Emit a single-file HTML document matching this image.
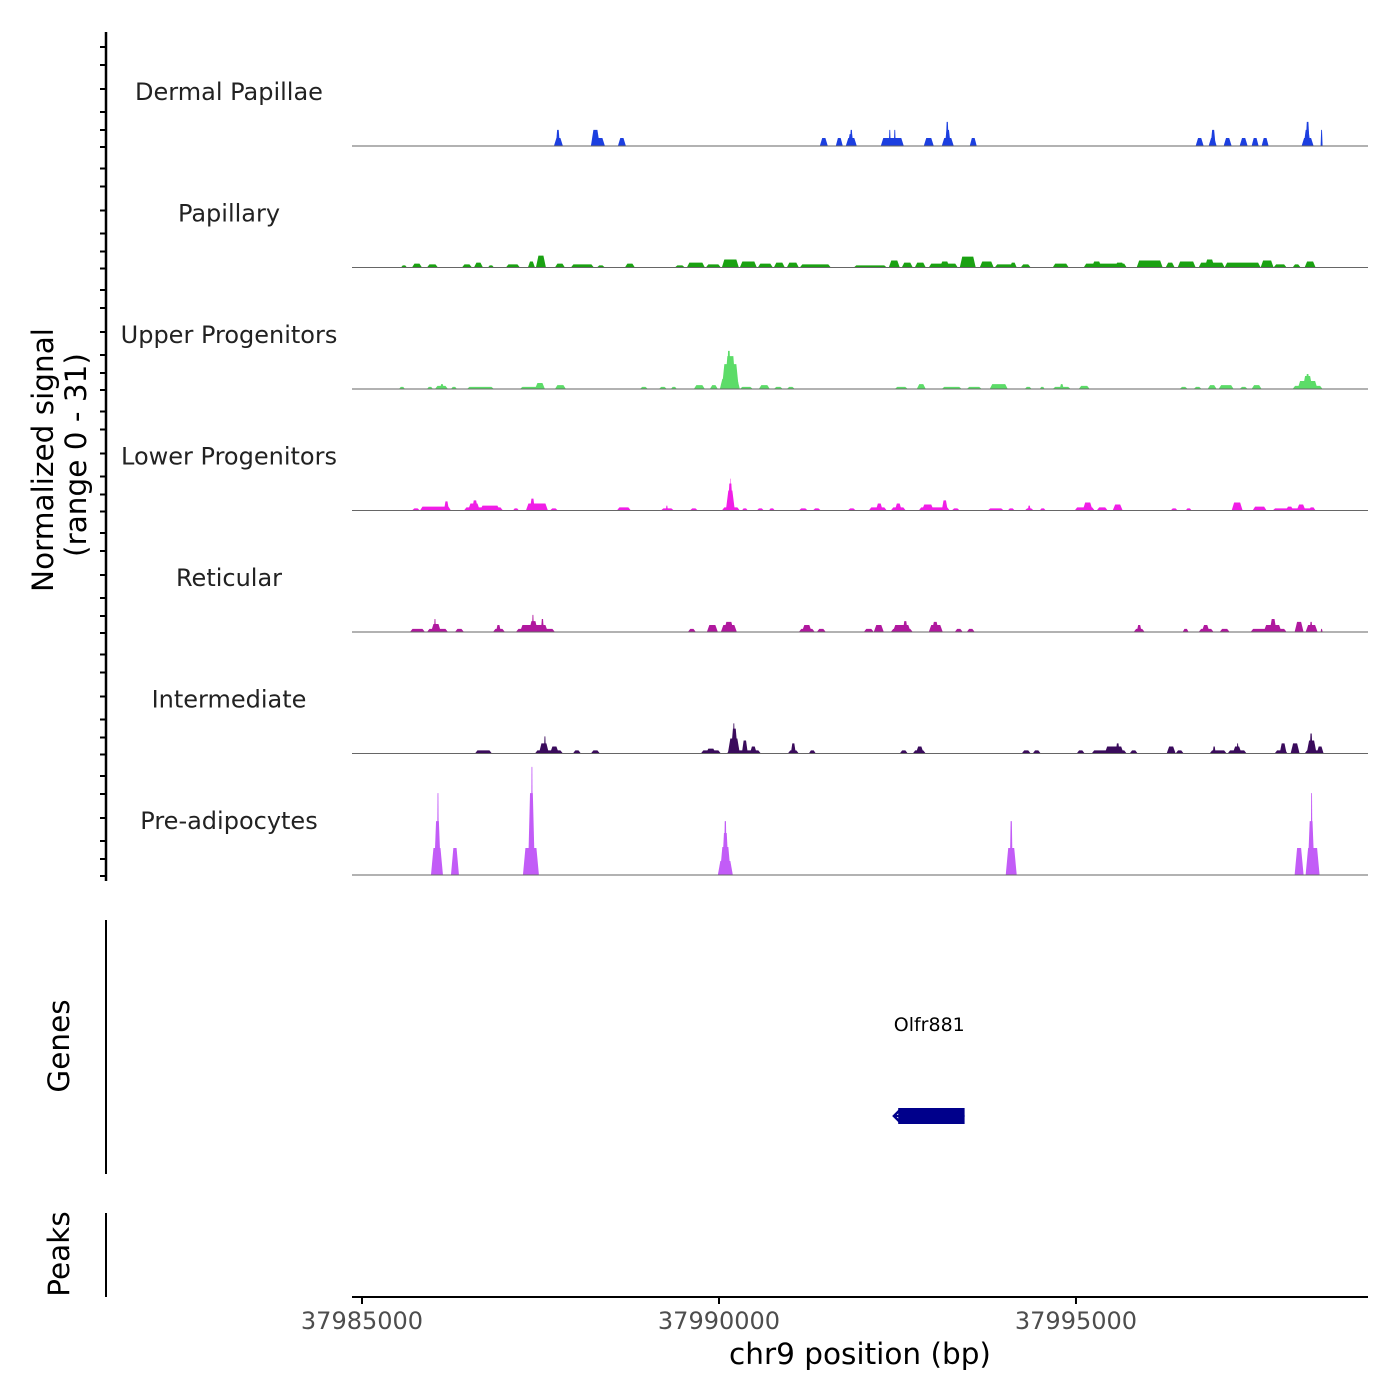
<!DOCTYPE html>
<html><head><meta charset="utf-8"><style>
html,body{margin:0;padding:0;background:#fff;}
svg{display:block;font-family:"DejaVu Sans","Liberation Sans",sans-serif;}
</style></head><body>
<svg id="chart" width="1400" height="1400" viewBox="0 0 1400 1400" xmlns="http://www.w3.org/2000/svg">
<rect width="1400" height="1400" fill="#fff"/>
<g id="tracks"></g>
<g id="yaxis"></g>
<text transform="translate(53,460) rotate(-90)" text-anchor="middle" font-size="29.5" fill="#000">Normalized signal</text>
<text transform="translate(86,455) rotate(-90)" text-anchor="middle" font-size="29.5" fill="#000">(range 0 - 31)</text>
<line x1="106" y1="920" x2="106" y2="1174" stroke="#000" stroke-width="2"/>
<text transform="translate(69,1046) rotate(-90)" text-anchor="middle" font-size="29.5" fill="#000">Genes</text>
<line x1="106" y1="1213" x2="106" y2="1297" stroke="#000" stroke-width="2"/>
<text transform="translate(69,1254) rotate(-90)" text-anchor="middle" font-size="29.5" fill="#000">Peaks</text>
<g id="genes"></g>
<g id="xaxis"></g>
<text x="860" y="1364" text-anchor="middle" font-size="29.5" fill="#000">chr9 position (bp)</text>
</svg>
<script>
// positions are bp offsets from regionStart; values in normalized signal (0-31)
const regionStart = 37985000;
const trackNames = ["Dermal Papillae","Papillary","Upper Progenitors","Lower Progenitors","Reticular","Intermediate","Pre-adipocytes"];
const trackColors = ["#1c3fe0","#1aa112","#5cdc68","#f01ee6","#b0189e","#3a0b5c","#c25cf7"];
const xTicks = [37985000, 37990000, 37995000];
const dermalPapillae = [[2688,2814,2.3],[2716,2772,4.6],[3206,3402,2.3],[3206,3332,4.6],[3584,3696,2.3],[6412,6524,2.3],[6636,6734,2.3],[6776,6930,2.3],[6804,6888,3.4],[6832,6874,4.6],[7266,7588,2.3],[7378,7406,4.6],[7448,7476,4.6],[7868,8008,2.3],[8120,8288,2.3],[8162,8246,4.6],[8176,8218,6.9],[8512,8610,2.3],[11676,11788,2.3],[11858,11970,2.3],[11886,11956,4.6],[12068,12180,2.3],[12292,12404,2.3],[12460,12558,2.3],[12600,12698,2.3],[13160,13328,2.3],[13188,13286,4.6],[13216,13272,6.9],[13426,13454,4.6]];
const papillary = [[546,630,0.6],[700,840,1.1],[910,1064,0.9],[1400,1540,0.9],[1568,1694,1.4],[1764,1848,0.6],[2016,2212,0.9],[2324,2422,1.7],[2436,2576,3.4],[2702,2842,1.1],[2926,3248,0.9],[3290,3402,0.6],[3682,3822,1.1],[4382,4522,0.6],[4550,4802,1.4],[4816,5026,0.9],[5040,5278,2.3],[5292,5530,1.7],[5544,5754,1.1],[5768,5922,1.4],[5950,6118,1.4],[6132,6566,0.9],[6888,7350,0.6],[7378,7532,2.0],[7560,7714,1.4],[7742,7896,1.4],[7938,8344,1.1],[8092,8232,1.7],[8372,8596,3.1],[8652,8848,1.7],[8862,9170,0.9],[9072,9170,1.4],[9226,9366,0.9],[9674,9898,1.1],[10108,10710,1.1],[10220,10360,1.7],[10542,10682,1.4],[10850,11214,2.0],[11256,11382,1.4],[11424,11676,1.7],[11718,12082,1.4],[11802,11942,2.3],[12082,12586,1.4],[12586,12768,2.0],[12768,12950,0.9],[13034,13146,0.9],[13202,13356,1.7]];
const upperProgenitors = [[518,602,0.6],[910,994,0.6],[1022,1204,0.9],[1092,1148,1.4],[1246,1330,0.6],[1470,1848,0.6],[2212,2478,0.6],[2422,2562,1.7],[2702,2856,1.1],[3892,4004,0.6],[4158,4270,0.6],[4326,4410,0.6],[4648,4802,1.1],[4872,4984,1.1],[5012,5292,2.9],[5040,5278,7.1],[5082,5236,9.4],[5110,5166,10.9],[5292,5474,0.6],[5558,5712,1.1],[5768,5894,0.6],[5950,6062,0.6],[7462,7644,0.6],[7770,7896,1.4],[8120,8400,0.6],[8470,8680,0.6],[8792,9044,1.4],[9282,9380,0.6],[9492,9562,0.6],[9674,9926,0.6],[9772,9828,1.4],[10038,10192,0.9],[11452,11564,0.6],[11648,11760,0.6],[11844,11970,1.1],[11998,12208,1.1],[12292,12404,0.6],[12460,12600,1.1],[13034,13454,0.9],[13104,13384,2.3],[13174,13314,3.7],[13216,13272,4.3]];
const lowerProgenitors = [[700,812,0.6],[812,1246,1.1],[1148,1218,2.6],[1428,1974,0.9],[1484,1652,2.0],[1540,1624,2.9],[1652,1932,1.4],[2114,2198,0.6],[2296,2604,2.0],[2352,2422,3.4],[2632,2744,0.6],[3570,3766,0.9],[4186,4368,0.6],[4256,4284,1.4],[4592,4704,0.6],[5040,5292,0.9],[5096,5222,5.7],[5124,5194,7.7],[5152,5166,9.1],[5320,5404,0.6],[5530,5628,0.6],[5698,5782,0.6],[6118,6244,0.6],[6314,6426,0.6],[6804,6916,0.6],[7098,7350,0.9],[7196,7294,2.0],[7406,7616,0.9],[7462,7560,2.0],[7798,8232,0.9],[7840,8008,1.7],[8120,8204,2.9],[8260,8372,0.6],[8764,8988,0.6],[9044,9142,0.6],[9282,9408,0.6],[9324,9366,1.4],[9492,9576,0.6],[9982,10262,0.9],[10094,10234,2.3],[10290,10444,0.9],[10514,10654,1.7],[11326,11424,0.6],[11536,11620,0.6],[12180,12334,2.3],[12474,12670,1.1],[12754,13356,0.6],[12936,13048,1.1],[13090,13216,1.7],[13258,13356,0.9]];
const reticular = [[672,882,0.9],[910,1204,0.9],[966,1106,2.3],[1008,1036,3.7],[1302,1428,0.9],[1834,2002,0.9],[1876,1946,2.0],[2156,2702,0.9],[2212,2604,2.0],[2338,2464,3.1],[2380,2408,4.9],[2506,2548,3.7],[4564,4676,0.9],[4830,4984,2.0],[5026,5250,2.0],[5068,5208,2.9],[6118,6342,0.9],[6160,6300,2.0],[6370,6496,0.9],[7028,7168,0.9],[7168,7308,2.0],[7406,7714,0.9],[7434,7686,2.0],[7574,7644,3.1],[7938,8134,2.0],[7980,8078,2.9],[8302,8414,0.9],[8470,8582,0.9],[10808,10962,0.9],[10850,10920,2.0],[11494,11578,0.9],[11718,11928,0.9],[11760,11872,2.0],[12012,12152,0.9],[12446,12950,0.9],[12628,12880,2.0],[12712,12810,3.7],[13062,13188,2.9],[13216,13384,2.0],[13272,13314,2.9],[13426,13454,0.9]];
const intermediate = [[1582,1820,0.9],[2422,2814,0.9],[2478,2618,2.9],[2548,2576,4.9],[2632,2758,2.0],[2954,3066,0.9],[3206,3332,0.9],[4746,5026,0.9],[4816,4956,1.4],[5110,5586,0.9],[5124,5292,4.3],[5166,5264,7.1],[5194,5222,8.6],[5320,5404,3.7],[5432,5530,2.0],[5964,6118,0.9],[6006,6076,2.9],[6258,6356,0.9],[7532,7644,0.9],[7714,7896,0.9],[7756,7868,2.0],[9240,9366,0.9],[9394,9506,0.9],[10010,10122,0.9],[10220,10710,0.9],[10402,10668,2.0],[10556,10612,2.9],[10752,10864,0.9],[11270,11396,2.0],[11396,11508,0.9],[11872,12110,0.9],[11914,11956,2.0],[12124,12390,0.9],[12194,12320,2.0],[12250,12278,2.9],[12782,12964,0.9],[12852,12950,2.9],[13006,13132,2.9],[13202,13468,0.9],[13230,13370,3.7],[13272,13314,5.7],[13370,13468,2.0]];
const preAdipocytes = [[966,1134,7.7],[1008,1106,15.4],[1050,1078,23.4],[1246,1358,7.7],[2254,2478,7.7],[2324,2422,23.4],[2366,2394,30.9],[4984,5194,4.0],[5012,5166,8.0],[5040,5138,12.0],[5068,5110,15.4],[9016,9170,7.7],[9072,9114,15.4],[13062,13188,7.7],[13216,13412,7.7],[13244,13342,15.4],[13286,13314,23.4]];
const trackData = [dermalPapillae,papillary,upperProgenitors,lowerProgenitors,reticular,intermediate,preAdipocytes];
const geneName = "Olfr881";
const geneStart = 37992450, geneEnd = 37993440, geneCdsStart = 37992510;

const NS="http://www.w3.org/2000/svg";
const plotLeft=352, plotRight=1368, domainMin=37984860, domainMax=37999090;
function xScale(bp){return plotLeft+(bp-domainMin)/(domainMax-domainMin)*(plotRight-plotLeft);}
const trackTop=25, trackH=121.5, yMax=31, yPx=108.5;
function baseY(i){return trackTop+(i+1)*trackH-0.5;}
function yScale(i,v){return baseY(i)-v/yMax*yPx;}
function mk(tag,attrs,parent){const e=document.createElementNS(NS,tag);for(const k in attrs)e.setAttribute(k,attrs[k]);parent.appendChild(e);return e;}

const tracks=document.getElementById('tracks');
trackData.forEach((arr,i)=>{
  const g=mk('g',{},tracks);
  
  
  const lab=mk('text',{x:229,y:baseY(i)-46,'text-anchor':'middle','font-size':24,fill:'#222'},g);
  lab.textContent=trackNames[i];
  
  
  arr.forEach(d=>{
    const x0=xScale(regionStart+d[0]), x1=xScale(regionStart+d[1]);
    const w=x1-x0, s=Math.min(w*0.3,2.5);
    const yb=baseY(i), yt=yScale(i,d[2]);
    const p=mk('polygon',{points:`${x0},${yb} ${x0+s},${yt} ${x1-s},${yt} ${x1},${yb}`,fill:trackColors[i]},g);
    
    
  });
  const bl=mk('line',{x1:plotLeft,x2:plotRight,y1:baseY(i),y2:baseY(i),stroke:'#666','stroke-width':1},g);
  
  
});

const ya=document.getElementById('yaxis');
const ax=mk('line',{x1:106,x2:106,y1:32,y2:881,stroke:'#000','stroke-width':2.5},ya);


for(let i=0;i<7;i++){
  [0,17,35,58,82,100].forEach(o=>{
    const y=baseY(i)-o+1;
    if(y<33)return;
    const t=mk('line',{x1:100,x2:106,y1:y,y2:y,stroke:'#000','stroke-width':2},ya);
    
    
  });
}

const gg=document.getElementById('genes');
const gl=mk('text',{x:(xScale(geneStart)+xScale(geneEnd))/2,y:1031,'text-anchor':'middle','font-size':19,fill:'#000'},gg);
gl.textContent=geneName;


const gline=mk('line',{x1:xScale(geneStart),x2:xScale(geneEnd),y1:1116,y2:1116,stroke:'#00008b','stroke-width':2},gg);


const gb=mk('rect',{x:xScale(geneCdsStart),y:1108,width:xScale(geneEnd)-xScale(geneCdsStart),height:16,fill:'#00008b'},gg);


const ga=mk('path',{d:`M${xScale(geneStart)+6},1110 L${xScale(geneStart)},1116 L${xScale(geneStart)+6},1122`,stroke:'#00008b','stroke-width':2.5,fill:'none'},gg);



const xa=document.getElementById('xaxis');
const xl=mk('line',{x1:plotLeft,x2:plotRight,y1:1297,y2:1297,stroke:'#000','stroke-width':2},xa);


xTicks.forEach(v=>{
  const x=xScale(v);
  const t=mk('line',{x1:x,x2:x,y1:1297,y2:1304,stroke:'#000','stroke-width':2},xa);
  
  
  const l=mk('text',{x:x,y:1329,'text-anchor':'middle','font-size':24,fill:'#4d4d4d'},xa);
  l.textContent=v;
  
  
});
</script>
</body></html>
